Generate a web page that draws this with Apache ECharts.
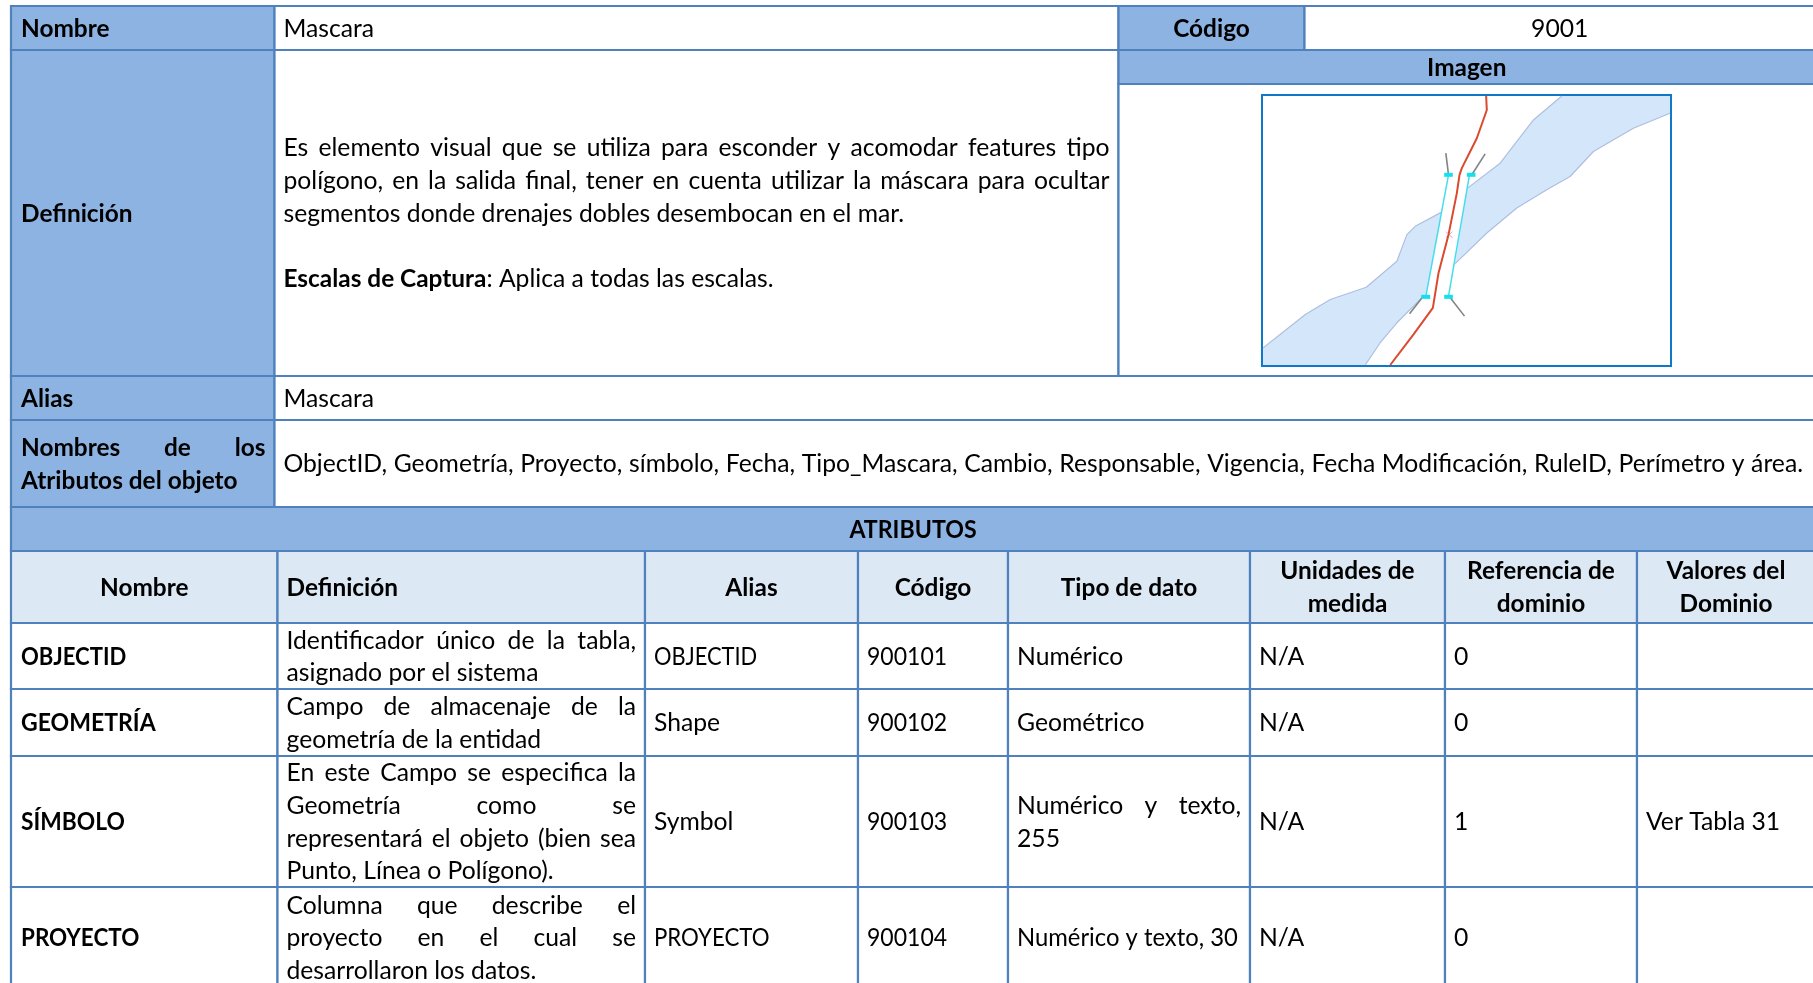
<!DOCTYPE html>
<html><head><meta charset="utf-8">
<style>html,body{margin:0;padding:0;background:#fff}#c{width:1813px;height:983px}</style>
<script src="https://cdn.jsdelivr.net/npm/echarts@6/dist/echarts.min.js"></script>
</head><body><div id="c"></div>
<script>
// ---- table text ----
const featureName = 'Mascara';
const featureCode = '9001';
const definitionLines = [
  'Es elemento visual que se utiliza para esconder y acomodar features tipo',
  'polígono, en la salida final, tener en cuenta utilizar la máscara para ocultar',
  'segmentos donde drenajes dobles desembocan en el mar.',
  '',
  '**Escalas de Captura**: Aplica a todas las escalas.'
];
const attributeList = 'ObjectID, Geometría, Proyecto, símbolo, Fecha, Tipo_Mascara, Cambio, Responsable, Vigencia, Fecha Modificación, RuleID, Perímetro y área.';
const attrHeaders = [['Nombre'],['Definición'],['Alias'],['Código'],['Tipo de dato'],['Unidades de','medida'],['Referencia de','dominio'],['Valores del','Dominio']];
const attrNames = ['OBJECTID','GEOMETRÍA','SÍMBOLO','PROYECTO'];
const attrDefinitions = [
  ['Identificador único de la tabla,','asignado por el sistema'],
  ['Campo de almacenaje de la','geometría de la entidad'],
  ['En este Campo se especifica la','Geometría como se','representará el objeto (bien sea','Punto, Línea o Polígono).'],
  ['Columna que describe el','proyecto en el cual se','desarrollaron los datos.']
];
const attrAliases = ['OBJECTID','Shape','Symbol','PROYECTO'];
const attrCodes = ['900101','900102','900103','900104'];
const attrTypes = [['Numérico'],['Geométrico'],['Numérico y texto,','255'],['Numérico y texto, 30']];
const attrUnits = ['N/A','N/A','N/A','N/A'];
const attrDomainRefs = ['0','0','1','0'];
const attrDomainValues = ['','','Ver Tabla 31',''];

// ---- map picture, read in image units ----
const bandLeft = [[68,808],[195,705],[270,660],[378,623],[470,545],[500,465],[525,440],[603,398],[557,650],[550,650],[470,730],[420,790],[375,857],[68,857]];
const bandRight = [[682,325],[780,250],[880,120],[965,48],[1290,48],[1290,100],[1180,145],[1060,215],[990,290],[920,330],[830,385],[740,460],[645,552]];
const bandEdgeA = [[68,806],[195,705],[270,660],[378,623],[470,545],[500,465],[525,440],[603,398]];
const bandEdgeB = [[550,650],[470,730],[420,790],[375,857]];
const bandEdgeC = [[682,325],[780,250],[880,120],[965,48]];
const bandEdgeD = [[1290,100],[1180,145],[1060,215],[990,290],[920,330],[830,385],[740,460],[645,552]];
const redLine = [[738,48],[740,90],[710,175],[665,265],[658,285],[650,340],[625,465],[595,580],[578,685],[520,765],[450,857]];
const cyanLeft = [[625,285],[557,650]];
const cyanRight = [[688,285],[625,650]];
const nodes = [[[612,285],[638,285]],[[680,285],[706,285]],[[543,652],[570,652]],[[612,652],[638,652]]];
const whiskers = [[[625,285],[617,220]],[[695,285],[735,222]],[[548,652],[508,703]],[[628,652],[673,710]]];
const star = [[[617,456],[637,474]],[[637,456],[617,474]]];

// ---- styling / layout ----
const BORDER='#4F81BD', HEAD='#8DB3E2', SUB='#DDE8F5', WHITE='#FFFFFF', INK='#000000';
const FONT='Lato', SIZE_R=24.7, SIZE_B=24.4, LH=32.7, PAD=9, TEXT_DY=0.9;
const topX=[11,274.5,1118.5,1304.5,1815];
const topY=[6,50,376,420,507];
const imgBandY=84;
const attrY=[507,551,623,689,756,887,988];
const attrX=[11,277.5,645,858,1008,1250,1445,1637,1815];
// horizontal squeeze for capitals and digits, which the substitute font sets wider
const narrowRegular={OBJECTID:.885,PROYECTO:.90,'900101':.933,'900102':.933,'900103':.933,'900104':.933,'Numérico y texto, 30':.965};
const narrowBold={OBJECTID:.905,'GEOMETRÍA':.944,PROYECTO:.92,'SÍMBOLO':.934,ATRIBUTOS:.949};

const cells=[];
function cell(x0,y0,x1,y1,fill,lines,o){cells.push(Object.assign({x0,y0,x1,y1,fill,lines,align:'left',bold:false,just:0},o||{}));}
const B={bold:true};
cell(topX[0],topY[0],topX[1],topY[1],HEAD,['Nombre'],B);
cell(topX[1],topY[0],topX[2],topY[1],WHITE,[featureName]);
cell(topX[2],topY[0],topX[3],topY[1],HEAD,['Código'],{bold:true,align:'center'});
cell(topX[3],topY[0],topX[4],topY[1],WHITE,[featureCode],{align:'center'});
cell(topX[0],topY[1],topX[1],topY[2],HEAD,['Definición'],B);
cell(topX[1],topY[1],topX[2],topY[2],WHITE,definitionLines,{just:2});
cell(topX[2],topY[1],topX[4],imgBandY,HEAD,['Imagen'],{bold:true,align:'center'});
cell(topX[2],imgBandY,topX[4],topY[2],WHITE,[]);
cell(topX[0],topY[2],topX[1],topY[3],HEAD,['Alias'],B);
cell(topX[1],topY[2],topX[4],topY[3],WHITE,[featureName]);
cell(topX[0],topY[3],topX[1],topY[4],HEAD,['Nombres de los','Atributos del objeto'],{bold:true,just:1});
cell(topX[1],topY[3],topX[4],topY[4],WHITE,[attributeList],{just:1,right:1803});
cell(topX[0],attrY[0],topX[4],attrY[1],HEAD,['ATRIBUTOS'],{bold:true,align:'center'});
attrHeaders.forEach((h,c)=>cell(attrX[c],attrY[1],attrX[c+1],attrY[2],SUB,h,{bold:true,align:c===1?'left':'center'}));
attrNames.forEach((n,r)=>{
  const y0=attrY[r+2],y1=attrY[r+3];
  const rows=[[n],attrDefinitions[r],[attrAliases[r]],[attrCodes[r]],attrTypes[r],[attrUnits[r]],[attrDomainRefs[r]],[attrDomainValues[r]]];
  rows.forEach((ls,c)=>{
    const o={};
    if(c===0)o.bold=true;
    if(c===1)o.just=ls.length-1;
    if(c===4&&ls.length>1)o.just=1;
    cell(attrX[c],y0,attrX[c+1],y1,WHITE,ls,o);
  });
});

const meas=document.createElement('canvas').getContext('2d');
function fontOf(b){return (b?'700 '+SIZE_B:'400 '+SIZE_R)+'px '+FONT;}
function width(t,b){meas.font=fontOf(b);return meas.measureText(t).width;}
function parseRuns(line,bold){
  const m=/^\*\*(.+?)\*\*(.*)$/.exec(line);
  return m?[{t:m[1],b:true},{t:m[2],b:false}]:[{t:line,b:bold}];
}
function renderCell(params,api){
  const c=cells[params.dataIndex];
  const a=api.coord([c.x0,c.y0]), b=api.coord([c.x1,c.y1]);
  const kids=[{type:'rect',shape:{x:a[0],y:a[1],width:b[0]-a[0],height:b[1]-a[1]},style:{fill:c.fill,stroke:BORDER,lineWidth:2.2}}];
  const visH=c.lines.length*LH;
  const cy=(a[1]+b[1])/2;
  const left=a[0]+(c.x0===11?10:PAD), right=(c.right||b[0]-PAD);
  c.lines.forEach((line,i)=>{
    if(!line)return;
    const y=cy-visH/2+LH*(i+.5)+TEXT_DY;
    const push=(t,x,bo,al)=>{
      const f=(bo?narrowBold:narrowRegular)[t]||1;
      kids.push({type:'text',x,y,scaleX:f,style:{text:t,x:0,y:0,font:fontOf(bo),fill:INK,textAlign:al,textVerticalAlign:'middle'}});
    };
    if(c.align==='center'){push(line,Math.min(a[0]+b[0],2*1813)/2,c.bold,'center');return;}
    if(i<c.just){
      const words=line.split(' ');
      const tot=words.reduce((s,w)=>s+width(w,c.bold),0);
      const gap=words.length>1?(right-left-tot)/(words.length-1):0;
      let x=left;
      words.forEach(w=>{push(w,x,c.bold,'left');x+=width(w,c.bold)+gap;});
      return;
    }
    let x=left;
    parseRuns(line,c.bold).forEach(r=>{push(r.t,x,r.b,'left');x+=width(r.t,r.b);});
  });
  return {type:'group',children:kids};
}
function seg(name,data,color,w,extra){
  return Object.assign({type:'line',name,xAxisIndex:1,yAxisIndex:1,data,showSymbol:false,symbol:'none',silent:true,z:6,
    lineStyle:{color,width:w},itemStyle:{color},animation:false},extra||{});
}
const polys=[bandLeft,bandRight];
const series=[
  {type:'custom',name:'tabla',xAxisIndex:0,yAxisIndex:0,z:1,silent:true,clip:false,
   data:cells.map((c,i)=>[c.x0,c.y0,c.x1,c.y1,i]),encode:{x:[0,2],y:[1,3]},renderItem:renderCell},
  {type:'custom',name:'cauce',xAxisIndex:1,yAxisIndex:1,z:5,silent:true,
   data:polys.map((p,i)=>[p[0][0],p[0][1],i]),
   renderItem:(params,api)=>({type:'polygon',shape:{points:polys[params.dataIndex].map(q=>api.coord(q))},style:{fill:'#D3E6FA',stroke:null}})},
  seg('e1',bandEdgeA,'#AEBEE2',1.2),seg('e2',bandEdgeB,'#AEBEE2',1.2),seg('e3',bandEdgeC,'#AEBEE2',1.2),seg('e4',bandEdgeD,'#AEBEE2',1.2),
  seg('cy1',cyanLeft,'#45DDEB',1.5),seg('cy2',cyanRight,'#45DDEB',1.5),
  ...whiskers.map((d,i)=>seg('w'+i,d,'#808488',1.6)),
  ...nodes.map((d,i)=>seg('n'+i,d,'#12E0EE',4)),
  ...star.map((d,i)=>seg('s'+i,d,'#DDA9C4',1)),
  seg('rojo',redLine,'#DB4A2E',2)
];
const chart=echarts.init(document.getElementById('c'),null,{renderer:'canvas'});
chart.setOption({
  animation:false,backgroundColor:'#fff',
  grid:[
    {left:0,top:0,width:1813,height:983,show:false,z:0},
    {left:1262,top:95,width:409,height:271,show:true,backgroundColor:'#fff',borderColor:'#0F78C8',borderWidth:2,z:3}
  ],
  xAxis:[{type:'value',gridIndex:0,min:0,max:1813,show:false},{type:'value',gridIndex:1,min:65,max:1293,show:false}],
  yAxis:[{type:'value',gridIndex:0,min:0,max:983,inverse:true,show:false},{type:'value',gridIndex:1,min:45,max:860,inverse:true,show:false}],
  series
});
</script></body></html>
